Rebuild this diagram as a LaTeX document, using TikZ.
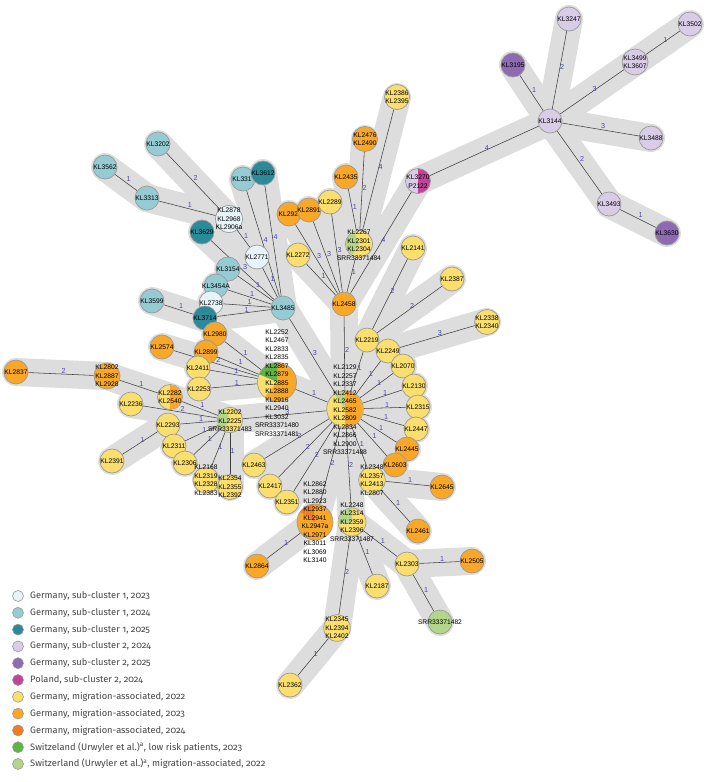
\documentclass[tikz,border=0pt]{standalone}
\usepackage{fontspec}
\setmainfont{Liberation Sans}
\newfontfamily\legfont[Numbers=OldStyle]{Fira Sans}
\pgfdeclarelayer{halo}
\pgfdeclarelayer{edges}
\pgfsetlayers{halo,edges,main}
\definecolor{vlb}{HTML}{E6F4FA}
\definecolor{ltt}{HTML}{95CBD3}
\definecolor{dkt}{HTML}{2B8A99}
\definecolor{lav}{HTML}{D9CCE6}
\definecolor{pur}{HTML}{8E6AB2}
\definecolor{mag}{HTML}{C0449A}
\definecolor{yel}{HTML}{FADE6E}
\definecolor{orn}{HTML}{F9A727}
\definecolor{dorn}{HTML}{F27C22}
\definecolor{grn}{HTML}{5DB548}
\definecolor{lgrn}{HTML}{B3D58A}
\definecolor{ndline}{HTML}{9A9A9A}
\definecolor{halocol}{HTML}{DDDDDD}
\definecolor{edgec}{HTML}{404040}
\definecolor{elabc}{HTML}{4848B0}
\definecolor{legtext}{HTML}{444444}
\tikzset{
  nd/.style={circle, draw=ndline, line width=0.7pt, minimum size=24pt, inner sep=0pt},
  lab/.style={font=\fontsize{6.7}{8.5}\selectfont, align=center, inner sep=0pt, text=black},
  haloline/.style={draw=halocol, line width=28pt, line cap=round},
  edge/.style={draw=edgec, line width=0.55pt},
  elab/.style={font=\fontsize{7.2}{8}\selectfont, text=elabc, midway, anchor=south west, inner sep=0.3pt},
  legc/.style={circle, draw=ndline, line width=0.6pt, minimum size=11pt, inner sep=0pt},
  legt/.style={font=\legfont\fontsize{9.3}{11}\selectfont, text=legtext, anchor=west, inner sep=0pt},
}
\newcommand\ND[5]{%
  \node[nd, minimum size={2*#3}, fill=#4] (#1) at (#2) {};
  \node[lab] (#1-l) at (#2) {#5};}
\newcommand\Wedge[5]{%
  \fill[#5] (#1.center) -- ++({-(#3)}:#2) arc[start angle={-(#3)}, end angle={-(#4)}, radius=#2] -- cycle;}
\newcommand\MEdge[3]{%
  \begin{pgfonlayer}{halo}\draw[haloline] (#1.center) -- (#2.center);\end{pgfonlayer}%
  \begin{pgfonlayer}{edges}\draw[edge] (#1) -- node[elab]{#3} (#2);\end{pgfonlayer}}
\begin{document}
\begin{tikzpicture}[x=1pt,y=-1pt]
\useasboundingbox (0,0) rectangle (708,782);
% ---------------- nodes ----------------
\ND{b3247}{569,19}{12}{lav}{KL3247}
\ND{b3502}{690,24}{12}{lav}{KL3502}
\ND{b3499}{635,62}{13}{lav}{KL3499\\KL3607}
\ND{b3195}{513,65}{12}{pur}{KL3195}
\ND{m2386}{397,97}{12.5}{yel}{KL2386\\KL2395}
\ND{b3144}{550,121}{12}{lav}{KL3144}
\ND{b3488}{651,138}{12}{lav}{KL3488}
\ND{m2476}{365,139}{12.5}{orn}{KL2476\\KL2490}
\ND{a3202}{158,144}{12}{ltt}{KL3202}
\ND{a3562}{105,167}{12}{ltt}{KL3562}
\node[nd, fill=ltt] (a331) at (243,179) {};
\node[lab] (a331-l) at (242,179) {KL331};
\ND{a3612}{263,173}{12}{dkt}{KL3612}
\ND{m2435}{346,177}{12}{orn}{KL2435}
\node[nd, minimum size=25pt, fill=lav] (b3270) at (418,181) {};
\Wedge{b3270}{12.1}{-90}{90}{mag}
\node[lab] (b3270-l) at (418,181.5) {KL3270\\P2122};
\ND{a3313}{147,198}{12}{ltt}{KL3313}
\ND{b3493}{609,204}{12}{lav}{KL3493}
\node[nd, fill=orn] (m2929) at (289,214) {};
\node[lab, anchor=west] (m2929-l) at (278.5,214) {KL292};
\ND{m2891}{309,210}{12}{orn}{KL2891}
\ND{m2289}{330,202}{12}{yel}{KL2289}
\ND{a2878}{229,219}{13.5}{vlb}{KL2878\\KL2968\\KL2906a}
\ND{a3629}{202,232}{12}{dkt}{KL3629}
\ND{b3630}{667,233}{12}{pur}{KL3630}
\node[nd, minimum size=27pt, fill=yel] (m2267) at (359,244) {};
\Wedge{m2267}{13.1}{112}{238}{lgrn}
\node[lab] (m2267-l) at (359,245) {KL2267\\KL2301\\KL2304\\SRR33371484};
\ND{m2141}{413,248}{12}{yel}{KL2141}
\ND{m2272}{298,255}{12}{yel}{KL2272}
\ND{a2771}{257,257}{12}{vlb}{KL2771}
\ND{a3154}{228,269}{12}{ltt}{KL3154}
\ND{m2387}{452,279}{12}{yel}{KL2387}
\ND{a3454}{216,286}{12}{ltt}{KL3454A}
\ND{a3599}{152,301}{12}{ltt}{KL3599}
\ND{a2738}{211,303}{12}{vlb}{KL2738}
\ND{m2458}{344,304}{12}{orn}{KL2458}
\ND{a3485}{283,308}{12}{ltt}{KL3485}
\ND{a3714}{205,318}{12}{dkt}{KL3714}
\ND{m2338}{487,322}{12.5}{yel}{KL2338\\KL2340}
\ND{m2980}{215,334}{12}{orn}{KL2980}
\ND{m2219}{367,340}{12}{yel}{KL2219}
\ND{m2574}{162,347}{12}{orn}{KL2574}
\ND{m2249}{388,351}{12}{yel}{KL2249}
\ND{m2899}{206,352}{12}{orn}{KL2899}
\ND{m2070}{403,366}{12}{yel}{KL2070}
\ND{m2411}{198,368}{12}{yel}{KL2411}
\ND{m2837}{16,372}{12}{orn}{KL2837}
\ND{m2802}{107,376}{13}{orn}{KL2802\\KL2887\\KL2928}
\node[nd, minimum size=39pt, fill=orn] (m2252) at (277,382) {};
\Wedge{m2252}{19.1}{88}{157}{grn}
\Wedge{m2252}{19.1}{157}{231}{yel}
\node[lab] (m2252-l) at (277,383) {KL2252\\KL2467\\KL2833\\KL2835\\KL2867\\KL2879\\KL2885\\KL2888\\KL2916\\KL2940\\KL3032\\SRR33371480\\SRR33371481};
\ND{m2130}{414,386}{12}{yel}{KL2130}
\ND{m2253}{199,389}{12}{yel}{KL2253}
\node[nd, minimum size=25pt, fill=yel] (m2282) at (170,397) {};
\Wedge{m2282}{12.1}{-90}{90}{orn}
\node[lab] (m2282-l) at (170,397) {KL2282\\KL2540};
\ND{m2236}{131,404}{12}{yel}{KL2236}
\ND{m2315}{418,407}{12}{yel}{KL2315}
\node[nd, minimum size=36.6pt, fill=yel] (hub) at (345,409) {};
\Wedge{hub}{17.9}{-90}{92}{orn}
\Wedge{hub}{17.9}{92}{125}{lgrn}
\node[lab] (hub-l) at (345,410) {KL2129\\KL2257\\KL2337\\KL2412\\KL2465\\KL2582\\KL2809\\KL2834\\KL2866\\KL2900\\SRR33371488};
\node[nd, minimum size=25.4pt, fill=yel] (m2202) at (230,420) {};
\Wedge{m2202}{12.3}{115}{235}{lgrn}
\node[lab] (m2202-l) at (230,421) {KL2202\\KL2225\\SRR33371483};
\ND{m2293}{168,425}{12}{yel}{KL2293}
\ND{m2447}{416,429}{12}{yel}{KL2447}
\ND{m2311}{174,446}{12}{yel}{KL2311}
\ND{m2445}{407,449}{12}{orn}{KL2445}
\ND{m2391}{112,461}{12}{yel}{KL2391}
\ND{m2306}{185,463}{12}{yel}{KL2306}
\ND{m2463}{254,465}{12}{yel}{KL2463}
\ND{m2348}{372,480}{13.3}{yel}{KL2348\\KL2357\\KL2413\\KL2807}
\ND{m2603}{395,465}{12}{orn}{KL2603}
\ND{m2168}{206,480}{13}{yel}{KL2168\\KL2319\\KL2328\\KL2383}
\ND{m2354}{230,487}{12.5}{yel}{KL2354\\KL2355\\KL2392}
\ND{m2417}{270,486}{12}{yel}{KL2417}
\ND{m2645}{442,487}{12}{orn}{KL2645}
\ND{m2351}{287,502}{12}{yel}{KL2351}
\node[nd, minimum size=36pt, fill=orn] (m2937) at (315,522) {};
\Wedge{m2937}{17.6}{95}{145}{dorn}
\node[lab] (m2937-l) at (315,522) {KL2862\\KL2880\\KL2923\\KL2937\\KL2941\\KL2947a\\KL2971\\KL3011\\KL3069\\KL3140};
\node[nd, minimum size=28pt, fill=yel] (m2248) at (352,522) {};
\Wedge{m2248}{13.6}{90}{190}{lgrn}
\node[lab] (m2248-l) at (352,522) {KL2248\\KL2314\\KL2359\\KL2396\\SRR33371487};
\ND{m2461}{418,531}{12}{orn}{KL2461}
\ND{m2505}{472,561}{12}{orn}{KL2505}
\ND{m2303}{407,564}{12}{yel}{KL2303}
\ND{m2864}{257,566}{12}{orn}{KL2864}
\ND{m2187}{377,586}{12}{yel}{KL2187}
\ND{s3482}{440,622}{12}{lgrn}{SRR33371482}
\ND{m2345}{337,628}{13.3}{yel}{KL2345\\KL2394\\KL2402}
\ND{m2362}{290,685}{12}{yel}{KL2362}
% ---------------- edges ----------------
\MEdge{a3562}{a3313}{1}
\MEdge{a3313}{a2878}{1}
\MEdge{a3202}{a2878}{2}
\MEdge{a2878}{a2771}{1}
\MEdge{a331}{a3485}{4}
\MEdge{a3612}{a3485}{4}
\MEdge{a2771}{a3485}{1}
\MEdge{a3629}{a3485}{3}
\MEdge{a3154}{a3485}{1}
\MEdge{a3454}{a3485}{1}
\MEdge{a2738}{a3485}{1}
\MEdge{a3714}{a3485}{1}
\MEdge{a3599}{a3714}{1}
\MEdge{a3485}{hub}{3}
\MEdge{b3247}{b3144}{2}
\MEdge{b3195}{b3144}{1}
\MEdge{b3499}{b3144}{3}
\MEdge{b3502}{b3499}{1}
\MEdge{b3488}{b3144}{3}
\MEdge{b3493}{b3144}{2}
\MEdge{b3630}{b3493}{1}
\MEdge{b3270}{b3144}{4}
\MEdge{b3270}{m2458}{4}
\MEdge{m2386}{m2267}{4}
\MEdge{m2476}{m2267}{2}
\MEdge{m2435}{m2267}{1}
\MEdge{m2267}{m2458}{1}
\MEdge{m2929}{m2458}{3}
\MEdge{m2891}{m2458}{3}
\MEdge{m2289}{m2458}{3}
\MEdge{m2272}{m2458}{1}
\MEdge{m2458}{hub}{2}
\MEdge{m2141}{m2219}{2}
\MEdge{m2387}{m2219}{2}
\MEdge{m2338}{m2249}{3}
\MEdge{m2219}{hub}{1}
\MEdge{m2249}{hub}{1}
\MEdge{m2070}{hub}{1}
\MEdge{m2130}{hub}{1}
\MEdge{m2315}{hub}{1}
\MEdge{m2447}{hub}{1}
\MEdge{m2445}{hub}{1}
\MEdge{m2603}{hub}{1}
\MEdge{m2348}{hub}{1}
\MEdge{m2348}{m2645}{1}
\MEdge{m2348}{m2461}{1}
\MEdge{hub}{m2248}{2}
\MEdge{hub}{m2937}{2}
\MEdge{hub}{m2351}{2}
\MEdge{hub}{m2417}{2}
\MEdge{hub}{m2463}{2}
\MEdge{m2202}{hub}{3}
\MEdge{m2252}{hub}{1}
\MEdge{m2248}{m2345}{2}
\MEdge{m2345}{m2362}{1}
\MEdge{m2248}{m2187}{1}
\MEdge{m2248}{m2303}{1}
\MEdge{m2303}{m2505}{1}
\MEdge{m2303}{s3482}{1}
\MEdge{m2864}{m2937}{1}
\MEdge{m2980}{m2252}{1}
\MEdge{m2574}{m2252}{2}
\MEdge{m2899}{m2252}{1}
\MEdge{m2411}{m2252}{1}
\MEdge{m2253}{m2252}{1}
\MEdge{m2837}{m2802}{2}
\MEdge{m2802}{m2282}{1}
\MEdge{m2282}{m2202}{1}
\MEdge{m2236}{m2202}{2}
\MEdge{m2293}{m2202}{1}
\MEdge{m2391}{m2293}{1}
\MEdge{m2311}{m2202}{1}
\MEdge{m2306}{m2202}{1}
\MEdge{m2168}{m2202}{1}
\MEdge{m2354}{m2202}{1}
% ---------------- legend ----------------
\node[legc, fill=vlb]  (lg1)  at (18,596) {};   \node[legt] (lt1)  at (30,596) {Germany, sub-cluster 1, 2023};
\node[legc, fill=ltt]  (lg2)  at (18,612.8) {}; \node[legt] (lt2)  at (30,612.8) {Germany, sub-cluster 1, 2024};
\node[legc, fill=dkt]  (lg3)  at (18,629.6) {}; \node[legt] (lt3)  at (30,629.6) {Germany, sub-cluster 1, 2025};
\node[legc, fill=lav]  (lg4)  at (18,646.4) {}; \node[legt] (lt4)  at (30,646.4) {Germany, sub-cluster 2, 2024};
\node[legc, fill=pur]  (lg5)  at (18,663.2) {}; \node[legt] (lt5)  at (30,663.2) {Germany, sub-cluster 2, 2025};
\node[legc, fill=mag]  (lg6)  at (18,680) {};   \node[legt] (lt6)  at (30,680) {Poland, sub-cluster 2, 2024};
\node[legc, fill=yel]  (lg7)  at (18,696.8) {}; \node[legt] (lt7)  at (30,696.8) {Germany, migration-associated, 2022};
\node[legc, fill=orn]  (lg8)  at (18,713.6) {}; \node[legt] (lt8)  at (30,713.6) {Germany, migration-associated, 2023};
\node[legc, fill=dorn] (lg9)  at (18,730.4) {}; \node[legt] (lt9)  at (30,730.4) {Germany, migration-associated, 2024};
\node[legc, fill=grn]  (lg10) at (18,747.2) {}; \node[legt] (lt10) at (30,747.2) {Switzeland (Urwyler et al.)\textsuperscript{a}, low risk patients, 2023};
\node[legc, fill=lgrn] (lg11) at (18,764) {};   \node[legt] (lt11) at (30,764) {Switzerland (Urwyler et al.)\textsuperscript{a}, migration-associated, 2022};
\end{tikzpicture}
\end{document}
